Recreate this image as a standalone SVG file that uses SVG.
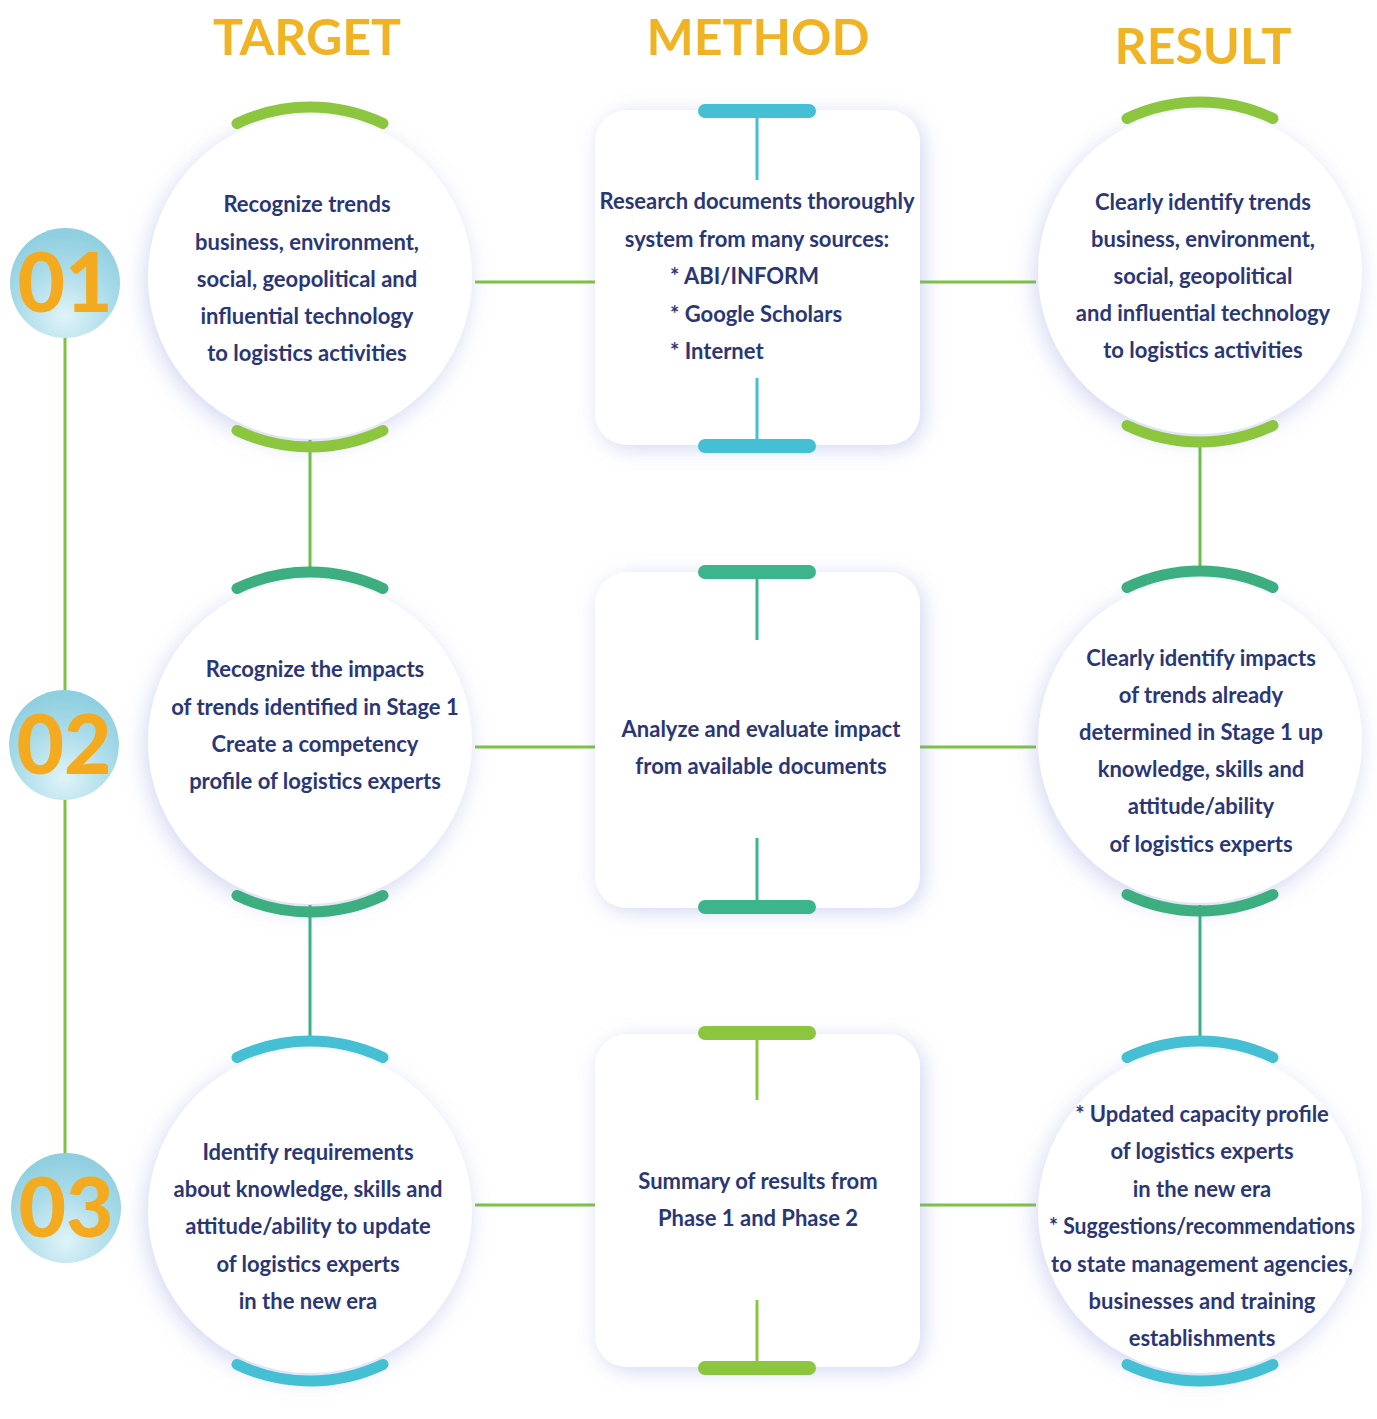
<svg xmlns="http://www.w3.org/2000/svg" width="1377" height="1419" viewBox="0 0 1377 1419">
<defs>
<filter id="sh" x="-30%" y="-30%" width="160%" height="160%">
<feDropShadow dx="-3" dy="6" stdDeviation="11" flood-color="#7f8fd6" flood-opacity="0.35"/>
</filter>
<filter id="shb" x="-30%" y="-30%" width="160%" height="160%">
<feDropShadow dx="4" dy="4" stdDeviation="10" flood-color="#7f8fd6" flood-opacity="0.35"/>
</filter>
<radialGradient id="ng" cx="50%" cy="80%" r="75%">
<stop offset="0" stop-color="#dff3f8"/>
<stop offset="0.6" stop-color="#a9dbe9"/>
<stop offset="1" stop-color="#8fcfe0"/>
</radialGradient>
</defs>
<style>
.hd{font-family:Lato,"Open Sans","Liberation Sans",sans-serif;font-weight:700;font-size:50px;fill:#f0b323;text-anchor:middle}
.num{font-family:Lato,"Liberation Sans",sans-serif;font-weight:900;font-size:82px;fill:#f4aa1e;text-anchor:middle}
.t{font-family:Lato,"Open Sans","Liberation Sans",sans-serif;font-weight:700;font-size:22px;fill:#2b3775;text-anchor:middle}
.tl{text-anchor:start}
.circ{fill:#ffffff;filter:url(#sh)}
.box{fill:#ffffff;filter:url(#shb)}
.arc{fill:none;stroke-width:11;stroke-linecap:round}
.g{stroke:#8cc63f}
.tg{stroke:#3dae80}
.c{stroke:#45bfd3}
.cap{stroke:none}
.ln{fill:none;stroke-width:3}
</style>
<rect width="1377" height="1419" fill="#ffffff"/>

<g id="headers">
<text class="hd" x="307" y="55">TARGET</text>
<text class="hd" x="758" y="55">METHOD</text>
<text class="hd" x="1203" y="64">RESULT</text>
</g>

<g id="connectors">
<line class="ln" x1="65" y1="335" x2="65" y2="695" stroke="#7dc242"/>
<line class="ln" x1="65" y1="795" x2="65" y2="1158" stroke="#7dc242"/>
<line class="ln" x1="310" y1="440" x2="310" y2="575" stroke="#6cbf4a"/>
<line class="ln" x1="310" y1="905" x2="310" y2="1045" stroke="#3aae86"/>
<line class="ln" x1="1200" y1="440" x2="1200" y2="575" stroke="#6cbf4a"/>
<line class="ln" x1="1200" y1="905" x2="1200" y2="1045" stroke="#3aae86"/>
<line class="ln" x1="475" y1="282" x2="597" y2="282" stroke="#7dc242"/>
<line class="ln" x1="918" y1="282" x2="1036" y2="282" stroke="#7dc242"/>
<line class="ln" x1="475" y1="747" x2="597" y2="747" stroke="#7dc242"/>
<line class="ln" x1="918" y1="747" x2="1036" y2="747" stroke="#7dc242"/>
<line class="ln" x1="475" y1="1205" x2="597" y2="1205" stroke="#7dc242"/>
<line class="ln" x1="918" y1="1205" x2="1036" y2="1205" stroke="#7dc242"/>
</g>

<g id="num01">
<circle cx="65" cy="283" r="55" fill="url(#ng)"/>
<text class="num" x="65" y="312">01</text>
</g>
<g id="num02">
<circle cx="64" cy="745" r="55" fill="url(#ng)"/>
<text class="num" x="64" y="774">02</text>
</g>
<g id="num03">
<circle cx="66" cy="1208" r="55" fill="url(#ng)"/>
<text class="num" x="66" y="1237">03</text>
</g>

<!-- Target row 1 -->
<g id="target1">
<circle class="circ" cx="310" cy="277" r="162"/>
<path class="arc g" d="M237 123.5 A170 170 0 0 1 383 123.5"/>
<path class="arc g" d="M237 430.5 A170 170 0 0 0 383 430.5"/>
<text class="t" x="307" y="212">Recognize trends</text>
<text class="t" x="307" y="250">business, environment,</text>
<text class="t" x="307" y="287">social, geopolitical and</text>
<text class="t" x="307" y="324">influential technology</text>
<text class="t" x="307" y="361">to logistics activities</text>
</g>

<g id="method1">
<rect class="box" x="595" y="110" width="325" height="335" rx="32"/>
<line class="ln" x1="757" y1="115" x2="757" y2="180" stroke="#45bfd3"/>
<line class="ln" x1="757" y1="378" x2="757" y2="442" stroke="#45bfd3"/>
<rect class="cap" x="698" y="104" width="118" height="14" rx="7" fill="#45bfd3"/>
<rect class="cap" x="698" y="439" width="118" height="14" rx="7" fill="#45bfd3"/>
<text class="t" x="757" y="209">Research documents thoroughly</text>
<text class="t" x="757" y="247">system from many sources:</text>
<text class="t tl" x="670" y="284">* ABI/INFORM</text>
<text class="t tl" x="670" y="322">* Google Scholars</text>
<text class="t tl" x="670" y="359">* Internet</text>
</g>

<g id="result1">
<circle class="circ" cx="1200" cy="272" r="162"/>
<path class="arc g" d="M1127 118.5 A170 170 0 0 1 1273 118.5"/>
<path class="arc g" d="M1127 425.5 A170 170 0 0 0 1273 425.5"/>
<text class="t" x="1203" y="210">Clearly identify trends</text>
<text class="t" x="1203" y="247">business, environment,</text>
<text class="t" x="1203" y="284">social, geopolitical</text>
<text class="t" x="1203" y="321">and influential technology</text>
<text class="t" x="1203" y="358">to logistics activities</text>
</g>

<!-- Row 2 -->
<g id="target2">
<circle class="circ" cx="310" cy="742" r="162"/>
<path class="arc tg" d="M237 588.5 A170 170 0 0 1 383 588.5"/>
<path class="arc tg" d="M237 895.5 A170 170 0 0 0 383 895.5"/>
<text class="t" x="315" y="677">Recognize the impacts</text>
<text class="t" x="315" y="715">of trends identified in Stage 1</text>
<text class="t" x="315" y="752">Create a competency</text>
<text class="t" x="315" y="789">profile of logistics experts</text>
</g>

<g id="method2">
<rect class="box" x="595" y="572" width="325" height="336" rx="32"/>
<line class="ln" x1="757" y1="577" x2="757" y2="640" stroke="#3db58c"/>
<line class="ln" x1="757" y1="838" x2="757" y2="903" stroke="#3db58c"/>
<rect class="cap" x="698" y="565" width="118" height="14" rx="7" fill="#3db58c"/>
<rect class="cap" x="698" y="900" width="118" height="14" rx="7" fill="#3db58c"/>
<text class="t" x="761" y="737">Analyze and evaluate impact</text>
<text class="t" x="761" y="774">from available documents</text>
</g>

<g id="result2">
<circle class="circ" cx="1200" cy="741" r="162"/>
<path class="arc tg" d="M1127 587.5 A170 170 0 0 1 1273 587.5"/>
<path class="arc tg" d="M1127 894.5 A170 170 0 0 0 1273 894.5"/>
<text class="t" x="1201" y="666">Clearly identify impacts</text>
<text class="t" x="1201" y="703">of trends already</text>
<text class="t" x="1201" y="740">determined in Stage 1 up</text>
<text class="t" x="1201" y="777">knowledge, skills and</text>
<text class="t" x="1201" y="814">attitude/ability</text>
<text class="t" x="1201" y="852">of logistics experts</text>
</g>

<!-- Row 3 -->
<g id="target3">
<circle class="circ" cx="310" cy="1211" r="162"/>
<path class="arc c" d="M237 1057.5 A170 170 0 0 1 383 1057.5"/>
<path class="arc c" d="M237 1364.5 A170 170 0 0 0 383 1364.5"/>
<text class="t" x="308" y="1160">Identify requirements</text>
<text class="t" x="308" y="1197">about knowledge, skills and</text>
<text class="t" x="308" y="1234">attitude/ability to update</text>
<text class="t" x="308" y="1272">of logistics experts</text>
<text class="t" x="308" y="1309">in the new era</text>
</g>

<g id="method3">
<rect class="box" x="595" y="1034" width="325" height="333" rx="32"/>
<line class="ln" x1="757" y1="1038" x2="757" y2="1100" stroke="#8cc63f"/>
<line class="ln" x1="757" y1="1300" x2="757" y2="1363" stroke="#8cc63f"/>
<rect class="cap" x="698" y="1026" width="118" height="14" rx="7" fill="#8cc63f"/>
<rect class="cap" x="698" y="1361" width="118" height="14" rx="7" fill="#8cc63f"/>
<text class="t" x="758" y="1189">Summary of results from</text>
<text class="t" x="758" y="1226">Phase 1 and Phase 2</text>
</g>

<g id="result3">
<circle class="circ" cx="1200" cy="1211" r="162"/>
<path class="arc c" d="M1127 1057.5 A170 170 0 0 1 1273 1057.5"/>
<path class="arc c" d="M1127 1364.5 A170 170 0 0 0 1273 1364.5"/>
<text class="t" x="1202" y="1122">*  Updated capacity profile</text>
<text class="t" x="1202" y="1159">of logistics experts</text>
<text class="t" x="1202" y="1197">in the new era</text>
<text class="t" x="1202" y="1234" textLength="306" lengthAdjust="spacingAndGlyphs">* Suggestions/recommendations</text>
<text class="t" x="1202" y="1272">to state management agencies,</text>
<text class="t" x="1202" y="1309">businesses and training</text>
<text class="t" x="1202" y="1346">establishments</text>
</g>
</svg>
